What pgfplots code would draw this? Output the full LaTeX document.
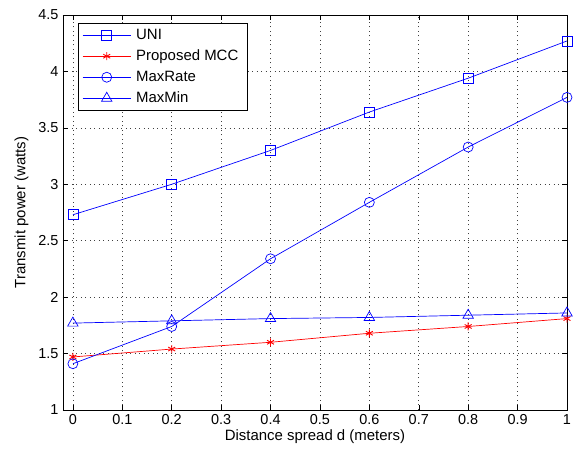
\documentclass[border=0pt]{standalone}
\usepackage{fontspec}
\setmainfont{Liberation Sans}
\usepackage{pgfplots}
\pgfplotsset{compat=1.18}

\begin{document}
\begin{tikzpicture}
\useasboundingbox (-63bp,-41bp) rectangle (515bp,410bp);
\begin{axis}[
    at={(0,0)}, anchor=south west,
    scale only axis,
    width=504bp, height=395bp,
    xmin=-0.02, xmax=1,
    ymin=1, ymax=4.5,
    xtick={0,0.1,...,1},
    ytick={1,1.5,...,4.5},
    xticklabels={0,0.1,0.2,0.3,0.4,0.5,0.6,0.7,0.8,0.9,1},
    yticklabels={1,1.5,2,2.5,3,3.5,4,4.5},
    tick align=inside,
    major tick length=5bp,
    grid=major,
    major grid style={black!75, line width=0.7pt, dash pattern=on 1bp off 3.5bp},
    axis line style={black, line width=0.6pt},
    tick style={black, line width=0.5pt},
    tick label style={font=\fontsize{14.5}{16}\selectfont},
    xticklabel style={yshift=-1bp},
    yticklabel style={xshift=-1bp},
    label style={font=\fontsize{15}{17}\selectfont},
    xlabel={Distance spread d (meters)},
    ylabel={Transmit power (watts)},
    xlabel style={yshift=2bp},
    ylabel style={yshift=3bp},
    legend style={at={(15bp,387bp)}, anchor=north west,
        draw=black, line width=0.6pt, font=\fontsize{15}{17}\selectfont,
        row sep=5bp, inner xsep=4bp, inner ysep=4bp,
        nodes={inner xsep=5bp}},
    legend cell align=left,
    legend image code/.code={
        \draw[mark repeat=2, mark phase=2] plot coordinates {(0cm,0cm) (0.85cm,0cm) (1.7cm,0cm)};
    },
]
\addplot[color=blue, line width=0.7pt, mark=square, mark size=5bp, mark options={solid, blue}] coordinates {
    (0,2.73) (0.2,3.00) (0.4,3.30) (0.6,3.64) (0.8,3.94) (1,4.27)
};
\addplot[color=red, line width=0.7pt, mark=asterisk, mark size=4bp, mark options={solid, red, line width=0.9pt}] coordinates {
    (0,1.47) (0.2,1.54) (0.4,1.60) (0.6,1.68) (0.8,1.74) (1,1.81)
};
\addplot[color=blue, line width=0.7pt, mark=o, mark size=5bp, mark options={solid, blue}] coordinates {
    (0,1.41) (0.2,1.74) (0.4,2.34) (0.6,2.84) (0.8,3.33) (1,3.77)
};
\addplot[color=blue, line width=0.7pt, mark=triangle, mark size=6bp, mark options={solid, blue}] coordinates {
    (0,1.77) (0.2,1.79) (0.4,1.81) (0.6,1.82) (0.8,1.84) (1,1.86)
};
\legend{UNI, Proposed MCC, MaxRate, MaxMin}
\end{axis}
\end{tikzpicture}
\end{document}
